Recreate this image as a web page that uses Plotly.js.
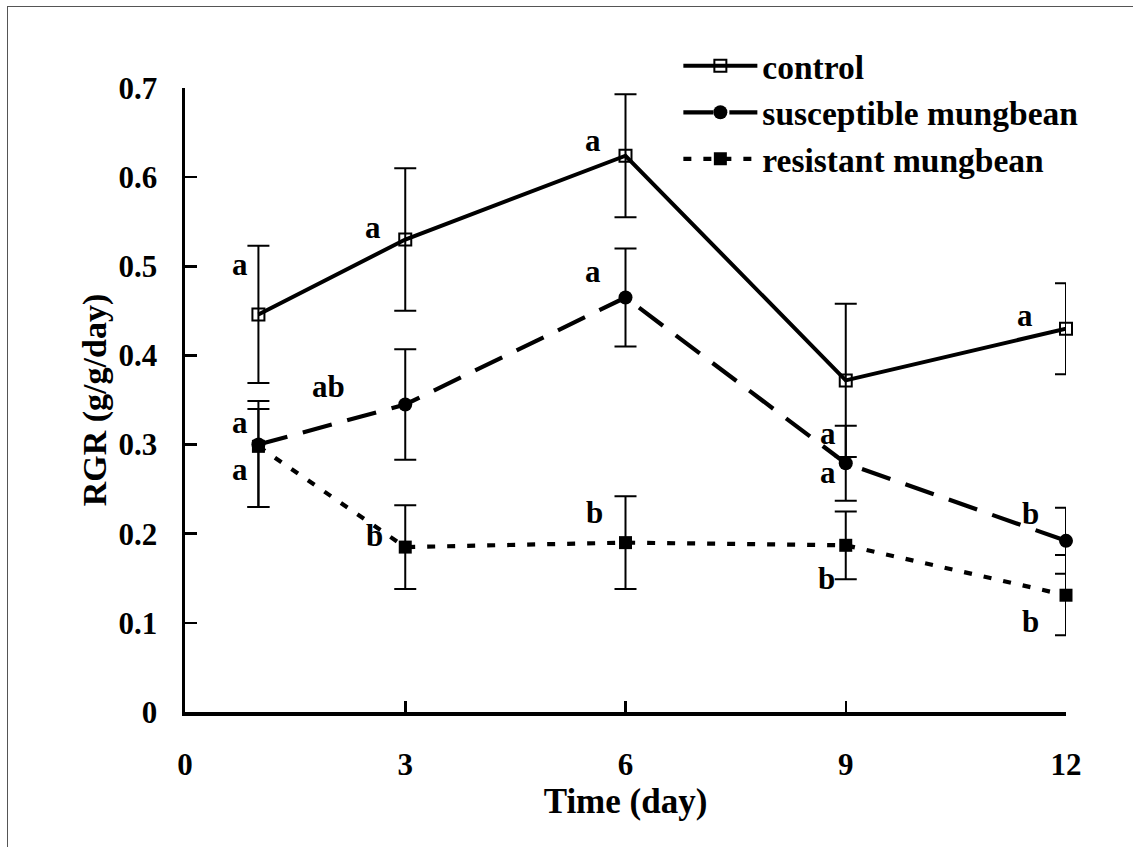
<!DOCTYPE html>
<html>
<head>
<meta charset="utf-8">
<script src="https://cdn.plot.ly/plotly-3.0.1.min.js"></script>
<style>
  html, body { margin: 0; padding: 0; background: #fff; }
  #wrap { position: relative; width: 1133px; height: 847px; overflow: hidden; }
  #frame { position: absolute; left: 7px; top: 6px; width: 1200px; height: 900px;
           border-left: 1.5px solid #555; border-top: 1.5px solid #555; pointer-events: none; z-index: 5; }
  #chart { position: absolute; left: 0; top: 0; width: 1133px; height: 847px; }
</style>
</head>
<body>
<div id="wrap">
  <div id="chart"></div>
  <div id="frame"></div>
</div>
<script>
// ---- data ----
const days = [1, 3, 6, 9, 12];
const xTickVals = [0, 3, 6, 9, 12];
const yTickVals = [0, 0.1, 0.2, 0.3, 0.4, 0.5, 0.6, 0.7];
const yTickText = ['0', '0.1', '0.2', '0.3', '0.4', '0.5', '0.6', '0.7'];

const controlRGR = [0.446, 0.530, 0.624, 0.372, 0.430];
const controlErr = [0.077, 0.080, 0.069, 0.086, 0.051];
const controlLetters = ['a', 'a', 'a', 'a', 'a'];

const susceptibleRGR = [0.300, 0.345, 0.465, 0.279, 0.192];
const susceptibleErrPlus = [0.049, 0.062, 0.055, 0.042, 0.037];
const susceptibleErrMinus = [0.070, 0.062, 0.055, 0.042, 0.037];
const susceptibleLetters = ['a', 'ab', 'a', 'a', 'b'];

const resistantRGR = [0.298, 0.185, 0.190, 0.187, 0.131];
const resistantErrPlus = [0.042, 0.047, 0.052, 0.038, 0.045];
const resistantErrMinus = [0.068, 0.047, 0.052, 0.038, 0.045];
const resistantLetters = ['a', 'b', 'b', 'b', 'b'];

const seriesNames = ['control', 'susceptible mungbean', 'resistant mungbean'];

// ---- styling / label offsets (pixels, relative to each point) ----
const FONT = 'Liberation Serif, Times New Roman, serif';
const labelShift = {
  control:     [[-18, 50], [-32, 12], [-33, 15], [-18, -53], [-41, 13]],
  susceptible: [[-18, 22], [-77, 18], [-33, 26], [-18, -9], [-36, 27]],
  resistant:   [[-18, -23], [-31, 12], [-31, 30], [-19, -33], [-36, -26]]
};

function errBar(plus, minus) {
  return { type: 'data', array: plus, arrayminus: minus || plus, symmetric: !minus,
           visible: true, color: '#000', thickness: 2, width: 11 };
}

const traces = [
  {
    x: days, y: controlRGR, name: seriesNames[0], type: 'scatter', mode: 'lines+markers',
    cliponaxis: false,
    line: { color: '#000', width: 4 },
    marker: { symbol: 'square-open', size: 12, color: '#000', line: { width: 2, color: '#000' } },
    error_y: errBar(controlErr)
  },
  {
    x: days, y: susceptibleRGR, name: seriesNames[1], type: 'scatter', mode: 'lines+markers',
    cliponaxis: false,
    line: { color: '#000', width: 4.2, dash: '30px,16px' },
    marker: { symbol: 'circle', size: 14, color: '#000' },
    error_y: errBar(susceptibleErrPlus, susceptibleErrMinus)
  },
  {
    x: days, y: resistantRGR, name: seriesNames[2], type: 'scatter', mode: 'lines+markers',
    cliponaxis: false,
    line: { color: '#000', width: 4.2, dash: '8px,12px' },
    marker: { symbol: 'square', size: 13, color: '#000' },
    error_y: errBar(resistantErrPlus, resistantErrMinus)
  }
];

const annotations = [];
function addLetters(vals, letters, shifts) {
  for (let i = 0; i < days.length; i++) {
    annotations.push({
      x: days[i], y: vals[i], text: letters[i], showarrow: false,
      xshift: shifts[i][0], yshift: shifts[i][1],
      font: { family: FONT, size: 31, color: '#000', weight: 'bold' }
    });
  }
}
addLetters(controlRGR, controlLetters, labelShift.control);
addLetters(susceptibleRGR, susceptibleLetters, labelShift.susceptible);
addLetters(resistantRGR, resistantLetters, labelShift.resistant);

const layout = {
  width: 1133, height: 847,
  margin: { l: 185, r: 67, t: 88, b: 135 },
  paper_bgcolor: '#fff', plot_bgcolor: '#fff',
  font: { family: FONT, color: '#000', weight: 'bold' },
  showlegend: true,
  legend: {
    x: 0.56, y: 1.081, xanchor: 'left', yanchor: 'top',
    bgcolor: 'rgba(0,0,0,0)', borderwidth: 0,
    font: { family: FONT, size: 33.5, color: '#000', weight: 'bold' },
    itemwidth: 74, tracegroupgap: 0
  },
  xaxis: {
    range: [0, 12], tickvals: xTickVals, ticktext: xTickVals.map(String),
    showline: true, linecolor: '#000', linewidth: 3.5, mirror: false,
    ticks: 'inside', ticklen: 11, tickwidth: 2.5, tickcolor: '#000',
    showgrid: false, zeroline: false,
    tickfont: { family: FONT, size: 31, color: '#000', weight: 'bold' },
    ticklabelstandoff: 22,
    title: { text: 'Time (day)', font: { family: FONT, size: 35, color: '#000', weight: 'bold' }, standoff: 4 }
  },
  yaxis: {
    range: [0, 0.7], tickvals: yTickVals, ticktext: yTickText,
    showline: true, linecolor: '#000', linewidth: 3.5, mirror: false,
    ticks: 'inside', ticklen: 12, tickwidth: 2.5, tickcolor: '#000',
    showgrid: false, zeroline: false,
    tickfont: { family: FONT, size: 31, color: '#000', weight: 'bold' },
    ticklabelstandoff: 18,
    title: { text: 'RGR (g/g/day)', font: { family: FONT, size: 34, color: '#000', weight: 'bold' }, standoff: 2 }
  },
  annotations: annotations
};

Plotly.newPlot('chart', traces, layout, { displayModeBar: false, staticPlot: true });
</script>
</body>
</html>
